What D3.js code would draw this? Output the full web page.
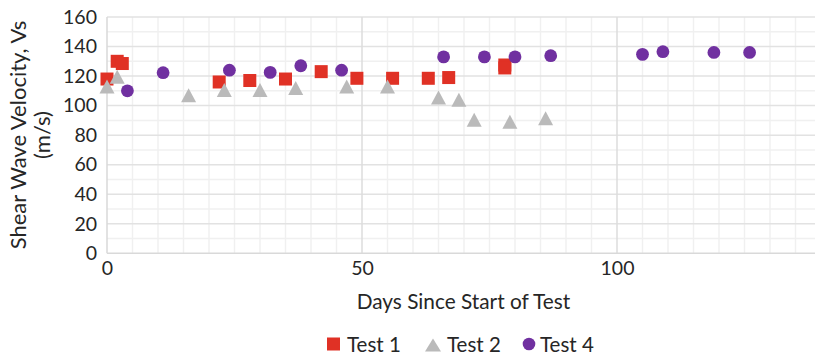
<!DOCTYPE html>
<html>
<head>
<meta charset="utf-8">
<script src="https://cdn.jsdelivr.net/npm/d3@7"></script>
<style>
  html, body { margin: 0; padding: 0; background: #fff; }
  svg { display: block; }
  text { font-family: Lato, "Open Sans", sans-serif; fill: #262626; }
</style>
</head>
<body>
<svg id="chart" width="815" height="356"></svg>
<script>
// Shear wave velocity measurements by test
const test1Days = [0, 2, 3, 22, 28, 35, 42, 49, 56, 63, 67, 78, 78];
const test1Vs   = [118, 130, 128.5, 116, 117, 118, 123, 118.5, 118.5, 118.5, 119, 127.5, 125.5];

const test2Days = [0, 2, 16, 23, 30, 37, 47, 55, 65, 69, 72, 79, 86];
const test2Vs   = [113, 119.5, 107, 110.5, 110.5, 112, 113, 113, 105.5, 104, 90.5, 89, 91.5];

const test4Days = [4, 11, 24, 32, 38, 46, 66, 74, 80, 87, 105, 109, 119, 126];
const test4Vs   = [110, 122.3, 124, 122.5, 127, 124, 133, 133, 133, 133.8, 134.7, 136.5, 136, 136];

const xTicks = [0, 50, 100];
const yTicks = [0, 20, 40, 60, 80, 100, 120, 140, 160];
const seriesNames = ["Test 1", "Test 2", "Test 4"];
const seriesColors = ["#E03125", "#BABABA", "#7030A0"];

const svg = d3.select("#chart");
const plot = { left: 107, top: 17, right: 821, bottom: 253.3 };

const x = d3.scaleLinear().domain([0, 140]).range([plot.left, plot.right]);
const y = d3.scaleLinear().domain([0, 160]).range([plot.bottom, plot.top]);

// Gridlines: minor first, then major on top
const grid = svg.append("g");
grid.selectAll(".vminor").data(d3.range(5, 141, 5).filter(d => d % 50 !== 0))
  .join("line")
  .attr("x1", d => x(d)).attr("x2", d => x(d))
  .attr("y1", plot.top).attr("y2", plot.bottom)
  .attr("stroke", "#f0f0f0").attr("stroke-width", 1.5);
grid.selectAll(".hminor").data(d3.range(10, 161, 20))
  .join("line")
  .attr("x1", plot.left).attr("x2", plot.right)
  .attr("y1", d => y(d)).attr("y2", d => y(d))
  .attr("stroke", "#f0f0f0").attr("stroke-width", 1.5);
grid.selectAll(".hmajor").data(yTicks.filter(d => d > 0))
  .join("line")
  .attr("x1", plot.left).attr("x2", plot.right)
  .attr("y1", d => y(d)).attr("y2", d => y(d))
  .attr("stroke", "#e2e2e2").attr("stroke-width", 1.5);
grid.selectAll(".vmajor").data(xTicks.filter(d => d > 0))
  .join("line")
  .attr("x1", d => x(d)).attr("x2", d => x(d))
  .attr("y1", plot.top).attr("y2", plot.bottom)
  .attr("stroke", "#dcdcdc").attr("stroke-width", 1.5);

// Axes lines
svg.append("line")
  .attr("x1", x(0)).attr("x2", x(0)).attr("y1", plot.top).attr("y2", plot.bottom)
  .attr("stroke", "#d9d9d9").attr("stroke-width", 1.5);
svg.append("line")
  .attr("x1", plot.left).attr("x2", plot.right).attr("y1", y(0)).attr("y2", y(0))
  .attr("stroke", "#d9d9d9").attr("stroke-width", 1.5);

// Tick labels via d3 axes
const yAxis = svg.append("g")
  .attr("transform", `translate(${plot.left},0)`)
  .call(d3.axisLeft(y).tickValues(yTicks).tickSize(0).tickPadding(10));
const xAxis = svg.append("g")
  .attr("transform", `translate(0,${plot.bottom})`)
  .call(d3.axisBottom(x).tickValues(xTicks).tickSize(0).tickPadding(8));
[yAxis, xAxis].forEach(a => {
  a.select(".domain").remove();
  a.selectAll("text").attr("font-size", 19.5).attr("fill", "#262626")
    .style("font-family", "Lato, sans-serif");
});

// Axis titles
svg.append("text")
  .attr("x", 463.5).attr("y", 308.5)
  .attr("text-anchor", "middle")
  .attr("font-size", 20.8)
  .text("Days Since Start of Test");

const yTitle = svg.append("text")
  .attr("transform", "translate(0,135) rotate(-90)")
  .attr("text-anchor", "middle")
  .attr("font-size", 22);
yTitle.append("tspan").attr("x", 0).attr("y", 26).text("Shear Wave Velocity, Vs");
yTitle.append("tspan").attr("x", 0).attr("y", 50).text("(m/s)");

// Marker shapes
const SQ = 13, TW = 15, TH = 14, CR = 6.4;
const triPath = `M0,${-TH / 2}L${TW / 2},${TH / 2}L${-TW / 2},${TH / 2}Z`;

const test1 = test1Days.map((d, i) => ({ d, v: test1Vs[i] }));
const test2 = test2Days.map((d, i) => ({ d, v: test2Vs[i] }));
const test4 = test4Days.map((d, i) => ({ d, v: test4Vs[i] }));

svg.append("g").selectAll("rect").data(test1).join("rect")
  .attr("x", p => x(p.d) - SQ / 2).attr("y", p => y(p.v) - SQ / 2)
  .attr("width", SQ).attr("height", SQ)
  .attr("fill", seriesColors[0]);

svg.append("g").selectAll("path").data(test2).join("path")
  .attr("transform", p => `translate(${x(p.d)},${y(p.v)})`)
  .attr("d", triPath)
  .attr("fill", seriesColors[1]);

svg.append("g").selectAll("circle").data(test4).join("circle")
  .attr("cx", p => x(p.d)).attr("cy", p => y(p.v)).attr("r", CR)
  .attr("fill", seriesColors[2]);

// Legend
const legendY = 344;
const legendItems = [
  { name: seriesNames[0], mx: 333.5, tx: 347, shape: "square" },
  { name: seriesNames[1], mx: 433, tx: 447, shape: "triangle" },
  { name: seriesNames[2], mx: 529, tx: 540, shape: "circle" }
];
const lg = svg.append("g");
legendItems.forEach((it, i) => {
  if (it.shape === "square") {
    lg.append("rect").attr("x", it.mx - 6.5).attr("y", legendY - 6.5)
      .attr("width", 13).attr("height", 13).attr("fill", seriesColors[i]);
  } else if (it.shape === "triangle") {
    lg.append("path").attr("transform", `translate(${it.mx},${legendY + 1})`)
      .attr("d", `M0,-6.5L8,6.5L-8,6.5Z`).attr("fill", seriesColors[i]);
  } else {
    lg.append("circle").attr("cx", it.mx).attr("cy", legendY).attr("r", 6.3)
      .attr("fill", seriesColors[i]);
  }
  lg.append("text").attr("x", it.tx).attr("y", 351.5)
    .attr("font-size", 20.5).text(it.name);
});
</script>
</body>
</html>
